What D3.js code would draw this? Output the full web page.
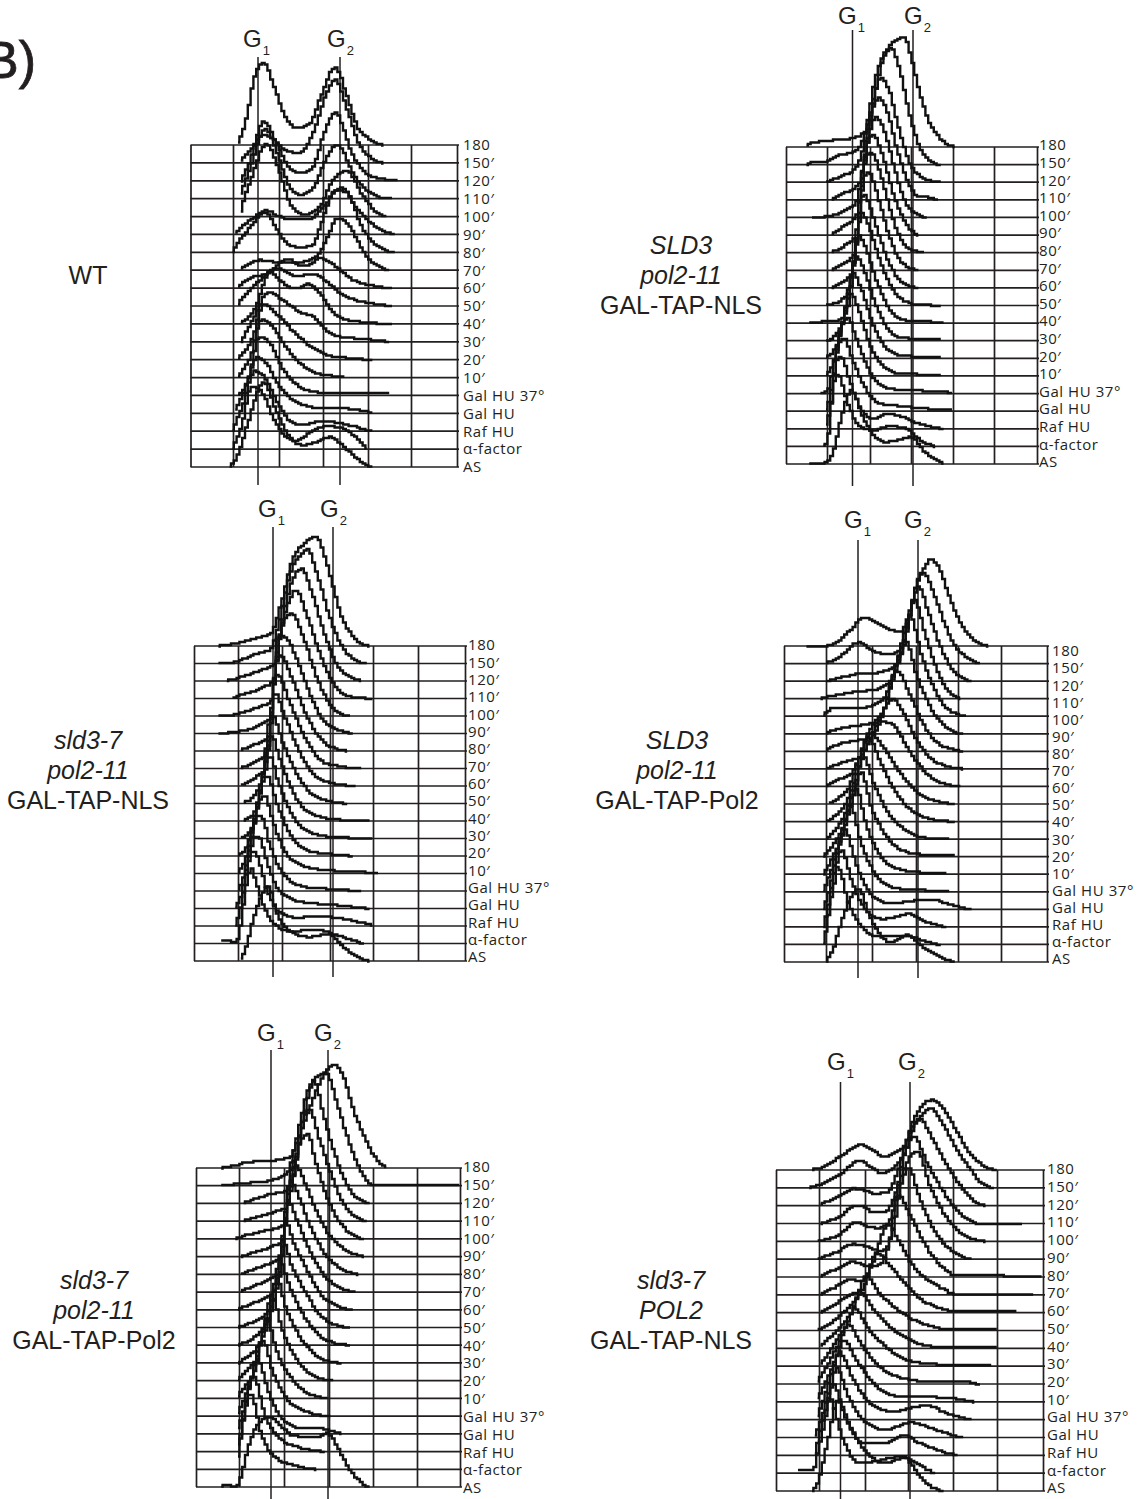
<!DOCTYPE html>
<html>
<head>
<meta charset="utf-8">
<script src="https://cdn.jsdelivr.net/npm/d3@7"></script>
<style>
  html, body { margin: 0; background: #fff; }
  svg { display: block; }
  .strain { font-family: "Liberation Sans", Arial, sans-serif; font-size: 25px; fill: #231f20; text-anchor: middle; }
  .phase { font-family: "Liberation Sans", Arial, sans-serif; fill: #231f20; }
  .tick text { font-family: "Open Sans", sans-serif; font-size: 15px; letter-spacing: 0.55px; fill: #231f20; }
</style>
</head>
<body>
<script>
// row labels, top row to bottom row
var timeLabels = ["180", "150′", "120′", "110′", "100′", "90′", "80′", "70′", "60′", "50′", "40′", "30′", "20′", "10′", "Gal HU 37°", "Gal HU", "Raf HU", "α-factor", "AS"];
var channelTicks = [0, 50, 100, 150, 200, 250, 300];

// each row is a list of [DNA channel, cell count]
var wtCurves = [
  [[55,0],[65,22],[75,68],[85,82],[95,62],[108,30],[122,17],[135,20],[150,50],[165,78],[178,50],[190,18],[205,5],[217,0]],
  [[58,0],[70,12],[85,28],[98,22],[110,12],[125,10],[140,30],[155,68],[165,83],[178,55],[190,22],[205,5],[218,0]],
  [[60,0],[70,20],[85,59],[100,35],[112,15],[125,8],[140,14],[152,45],[165,68],[185,25],[205,5],[235,0]],
  [[58,0],[70,30],[87,70],[100,45],[112,15],[125,4],[140,10],[150,30],[168,54],[185,25],[210,3],[228,0]],
  [[58,0],[72,40],[88,73],[102,45],[115,12],[130,2],[148,10],[162,36],[178,46],[195,22],[215,2],[222,0]],
  [[52,0],[70,14],[87,24],[102,18],[118,15],[135,15],[150,25],[172,47],[190,25],[210,8],[230,0]],
  [[50,0],[70,25],[87,40],[100,22],[112,8],[125,5],[140,8],[150,30],[165,62],[178,60],[195,25],[215,5],[232,0]],
  [[58,0],[80,10],[100,8],[125,8],[145,15],[155,30],[168,52],[180,45],[200,14],[225,0]],
  [[55,0],[70,10],[90,15],[110,29],[130,22],[150,30],[165,22],[185,8],[228,0]],
  [[55,0],[80,25],[100,38],[120,30],[140,32],[155,25],[175,10],[228,0]],
  [[58,0],[75,15],[92,52],[105,42],[120,35],[135,40],[148,30],[165,10],[185,3],[228,0]],
  [[60,0],[75,25],[90,50],[105,42],[125,30],[140,25],[155,12],[170,5],[195,3],[225,0]],
  [[55,0],[72,20],[85,55],[100,45],[118,28],[135,15],[155,5],[175,2],[205,0]],
  [[55,0],[70,20],[83,58],[95,50],[110,30],[125,15],[145,4],[175,1]],
  [[55,0],[68,15],[80,58],[92,52],[105,28],[120,12],[135,5],[150,3],[180,3],[225,2]],
  [[52,0],[65,25],[78,56],[88,50],[100,30],[115,15],[130,8],[150,5],[170,5],[205,1]],
  [[50,0],[62,25],[75,60],[85,55],[98,32],[112,12],[125,6],[150,10],[165,9],[185,5],[205,0]],
  [[50,0],[60,20],[72,62],[82,58],[95,32],[108,14],[120,8],[140,18],[155,23],[175,20],[200,0]],
  [[45,0],[55,8],[68,45],[85,85],[97,60],[110,35],[127,22],[145,25],[160,30],[175,20],[190,8],[205,0]]
];

var sld3NlsCurves = [
  [[25,0],[30,3],[50,6],[75,8],[95,14],[105,40],[115,80],[125,100],[135,107],[143,110],[152,90],[162,55],[172,28],[185,10],[203,0]],
  [[25,0],[33,2],[50,3],[65,9],[85,14],[97,35],[108,85],[120,112],[128,116],[138,95],[150,50],[162,18],[175,4],[185,0]],
  [[50,0],[65,5],[85,14],[97,45],[108,90],[115,104],[125,92],[138,50],[150,20],[165,5],[185,0]],
  [[55,0],[70,6],[88,15],[97,50],[105,90],[112,102],[122,90],[135,50],[148,18],[160,4],[175,2],[183,0]],
  [[32,0],[50,1],[70,6],[85,14],[95,55],[103,90],[109,100],[120,85],[133,45],[145,15],[158,4],[170,0]],
  [[55,0],[70,8],[85,18],[93,50],[100,95],[105,100],[117,80],[130,42],[145,12],[160,0]],
  [[55,0],[72,7],[85,18],[90,55],[97,95],[103,100],[115,78],[128,38],[142,10],[150,3],[165,1]],
  [[55,0],[70,7],[83,15],[90,60],[96,95],[100,98],[112,72],[125,35],[140,8],[158,0]],
  [[55,0],[68,5],[80,14],[88,60],[94,95],[100,85],[110,60],[125,25],[140,6],[158,0]],
  [[48,0],[55,1],[65,4],[78,14],[86,60],[92,92],[100,80],[112,50],[128,18],[145,4],[160,1],[185,0]],
  [[28,0],[40,1],[65,3],[75,12],[83,60],[88,88],[97,75],[110,42],[125,15],[142,3],[190,1]],
  [[50,0],[62,6],[72,25],[80,65],[85,85],[94,72],[107,40],[122,14],[140,3],[185,1]],
  [[48,0],[60,8],[70,35],[78,75],[82,85],[92,68],[105,35],[120,12],[138,3],[185,1]],
  [[48,0],[58,10],[68,45],[75,75],[80,82],[90,62],[102,30],[118,10],[135,3],[185,1]],
  [[42,0],[52,3],[62,40],[70,72],[76,75],[86,55],[98,28],[115,8],[135,4],[160,3],[200,1]],
  [[50,0],[58,25],[66,68],[72,72],[82,50],[95,25],[112,8],[130,6],[150,4],[200,1]],
  [[48,0],[56,22],[63,68],[68,72],[78,48],[90,22],[105,10],[125,15],[140,12],[165,4],[188,0]],
  [[45,0],[52,5],[60,65],[65,72],[75,45],[88,22],[105,16],[125,20],[145,18],[165,5],[180,0]],
  [[28,0],[48,1],[58,10],[68,45],[80,74],[92,50],[105,30],[120,22],[135,24],[152,27],[168,12],[190,0]]
];

var sld3Pol211NlsCurves = [
  [[27,0],[50,3],[77,9],[90,14],[100,40],[112,85],[125,103],[137,109],[146,90],[155,60],[165,30],[178,10],[196,0]],
  [[29,0],[50,2],[70,9],[88,14],[98,40],[110,90],[122,110],[128,114],[138,90],[150,50],[165,18],[180,4],[193,0]],
  [[38,0],[55,4],[75,10],[92,16],[102,60],[112,100],[122,112],[132,90],[145,50],[160,16],[175,4],[188,0]],
  [[43,0],[60,5],[80,11],[92,18],[100,65],[110,100],[116,108],[128,82],[142,42],[158,12],[175,2],[200,0]],
  [[29,0],[50,2],[72,8],[90,16],[97,65],[105,98],[112,102],[124,78],[138,38],[155,8],[172,0]],
  [[29,0],[50,2],[75,8],[90,18],[97,98],[105,96],[118,72],[132,36],[150,8],[178,0]],
  [[52,0],[72,7],[88,16],[94,80],[100,96],[112,72],[128,34],[146,8],[170,0]],
  [[52,0],[72,7],[86,16],[92,80],[97,94],[108,70],[125,32],[145,6],[165,2],[185,0]],
  [[52,0],[70,8],[84,18],[90,80],[94,92],[105,68],[122,30],[142,6],[180,0]],
  [[55,0],[70,8],[80,30],[88,84],[92,86],[102,62],[118,28],[138,6],[170,0]],
  [[55,0],[68,6],[78,35],[86,80],[90,84],[100,60],[115,25],[135,6],[155,2],[197,0]],
  [[52,0],[66,8],[76,40],[84,78],[88,82],[98,55],[112,24],[130,6],[150,2],[200,0]],
  [[50,0],[62,10],[72,45],[82,78],[85,80],[96,52],[110,22],[130,5],[150,2],[178,0]],
  [[50,0],[60,14],[70,50],[78,76],[82,78],[92,50],[106,20],[128,6],[152,3],[205,1]],
  [[50,0],[58,14],[67,52],[74,75],[78,75],[88,46],[102,18],[125,4],[150,2],[186,0]],
  [[48,0],[56,16],[65,55],[72,72],[75,72],[86,42],[100,16],[125,6],[150,4],[195,0]],
  [[48,0],[55,20],[63,60],[68,75],[72,72],[84,38],[98,14],[118,8],[130,10],[160,8],[200,1]],
  [[30,4],[50,2],[54,15],[62,62],[67,75],[72,62],[82,35],[95,18],[112,12],[135,14],[160,8],[190,0]],
  [[53,0],[60,12],[70,45],[86,74],[96,48],[110,30],[130,24],[150,27],[165,16],[180,6],[197,0]]
];

var sld3Pol2Curves = [
  [[28,0],[48,0],[65,5],[78,16],[93,28],[110,22],[133,14],[143,30],[152,60],[160,76],[170,87],[180,76],[192,48],[205,22],[218,8],[235,0]],
  [[50,0],[65,6],[87,21],[100,14],[120,9],[135,16],[145,50],[153,82],[160,91],[172,72],[185,42],[198,18],[212,6],[225,0]],
  [[50,0],[65,3],[85,7],[105,8],[125,14],[138,35],[148,80],[155,95],[166,70],[180,36],[195,12],[215,0]],
  [[45,0],[65,4],[85,7],[105,9],[122,18],[135,45],[145,85],[150,99],[162,66],[176,30],[190,8],[202,0]],
  [[48,0],[60,8],[85,8],[105,12],[118,22],[130,55],[140,88],[145,100],[158,62],[172,30],[188,8],[210,0]],
  [[50,0],[65,5],[85,8],[100,10],[115,24],[125,55],[135,85],[140,93],[152,60],[168,28],[185,8],[205,0]],
  [[50,0],[62,6],[85,11],[100,14],[112,32],[122,62],[130,80],[145,56],[160,28],[178,8],[207,0]],
  [[50,0],[68,6],[88,12],[98,26],[110,50],[125,70],[138,55],[152,30],[170,10],[187,3],[207,0]],
  [[50,0],[65,7],[80,14],[90,34],[100,58],[112,65],[125,62],[140,42],[155,22],[175,6],[203,0]],
  [[52,0],[65,6],[76,16],[86,42],[100,70],[115,56],[130,36],[150,14],[175,3],[197,0]],
  [[50,0],[62,6],[74,20],[88,55],[100,80],[112,58],[128,30],[148,10],[172,2],[197,0]],
  [[50,0],[60,7],[72,25],[84,55],[92,83],[104,55],[120,26],[142,8],[165,1],[190,0]],
  [[48,0],[58,10],[70,30],[82,62],[90,85],[100,52],[117,22],[137,6],[160,2],[197,1]],
  [[48,0],[56,12],[68,36],[78,66],[85,85],[95,50],[110,20],[132,5],[155,2],[185,1]],
  [[48,0],[55,15],[64,44],[72,70],[78,85],[90,48],[105,18],[127,4],[150,2],[190,1]],
  [[48,0],[55,18],[62,50],[68,68],[72,80],[84,46],[98,18],[120,6],[145,8],[170,10],[190,5],[215,0]],
  [[48,0],[54,20],[60,52],[65,68],[68,78],[80,44],[94,18],[112,8],[130,10],[142,13],[160,6],[185,0]],
  [[48,0],[52,16],[58,50],[62,68],[64,78],[76,42],[90,18],[107,8],[125,8],[140,9],[160,4],[178,0]],
  [[50,0],[58,10],[70,45],[87,73],[98,48],[110,28],[122,20],[135,24],[142,27],[158,16],[178,6],[198,0]]
];

var sld3Pol211Pol2Curves = [
  [[30,0],[45,2],[63,6],[85,7],[108,11],[118,30],[130,60],[145,92],[157,103],[168,92],[178,62],[190,35],[203,12],[217,0]],
  [[30,0],[50,2],[65,3],[85,5],[105,12],[115,45],[128,95],[140,110],[148,113],[160,85],[172,50],[188,15],[203,0],[245,0],[250,1],[300,1]],
  [[55,0],[70,5],[90,10],[108,14],[118,55],[128,105],[135,123],[145,90],[158,50],[175,14],[195,0]],
  [[55,0],[70,4],[90,9],[105,14],[114,55],[122,100],[130,112],[140,85],[155,45],[172,12],[193,0]],
  [[45,0],[65,5],[85,9],[102,14],[110,60],[120,98],[128,105],[136,80],[150,40],[170,10],[190,0]],
  [[52,0],[68,4],[88,10],[100,16],[106,60],[112,95],[118,88],[130,62],[146,30],[168,8],[190,0]],
  [[52,0],[70,6],[88,12],[100,18],[104,65],[108,95],[118,78],[130,50],[146,22],[165,6],[185,0]],
  [[52,0],[70,7],[88,14],[98,22],[102,70],[106,92],[116,72],[128,46],[145,18],[162,5],[180,0]],
  [[50,0],[68,7],[85,14],[96,26],[100,72],[103,90],[112,68],[126,42],[142,16],[160,4],[178,0]],
  [[50,0],[68,6],[82,14],[92,30],[97,72],[100,88],[110,62],[124,38],[140,14],[158,3],[175,0]],
  [[50,0],[65,6],[78,16],[88,35],[93,72],[97,85],[108,58],[122,32],[138,12],[155,3],[175,0]],
  [[50,0],[62,7],[75,20],[84,42],[90,75],[93,85],[104,55],[118,28],[135,9],[150,2],[165,0]],
  [[50,0],[60,10],[72,25],[80,55],[88,85],[100,50],[114,24],[130,7],[155,0]],
  [[48,0],[58,12],[70,30],[78,68],[82,80],[94,46],[110,20],[128,5],[150,0]],
  [[48,0],[56,14],[66,40],[74,70],[78,75],[90,42],[106,16],[125,5],[152,0]],
  [[48,0],[55,18],[63,45],[70,72],[72,75],[85,40],[100,14],[120,6],[135,6],[150,4],[165,0]],
  [[48,0],[54,20],[60,50],[66,74],[68,75],[80,38],[96,14],[115,5],[145,0]],
  [[48,0],[52,22],[58,55],[63,74],[65,75],[76,36],[92,12],[112,4],[137,0]],
  [[30,1],[36,2],[48,0],[55,14],[62,40],[72,62],[85,70],[97,62],[110,52],[125,50],[138,50],[150,54],[162,38],[178,14],[195,0]]
];

var sld3Pol2NlsCurves = [
  [[42,0],[55,3],[72,12],[85,20],[97,25],[110,20],[125,13],[138,18],[148,25],[158,50],[168,65],[178,70],[190,62],[205,40],[220,18],[235,5],[250,0]],
  [[40,0],[55,4],[75,14],[95,27],[110,20],[120,15],[135,20],[148,35],[158,60],[168,74],[177,80],[190,64],[205,40],[222,18],[235,4],[248,0]],
  [[50,0],[70,8],[90,17],[105,14],[112,12],[128,14],[140,35],[150,65],[165,87],[178,68],[195,40],[212,18],[225,5],[238,0]],
  [[52,0],[72,6],[92,18],[105,14],[110,11],[125,12],[138,32],[148,70],[158,87],[172,62],[188,36],[205,14],[220,3],[232,0],[278,0]],
  [[48,0],[70,5],[93,19],[105,15],[117,13],[130,20],[142,60],[152,82],[162,90],[175,58],[190,30],[208,10],[225,2],[238,0]],
  [[48,0],[68,6],[90,15],[105,12],[122,8],[135,32],[145,78],[152,92],[165,60],[180,30],[198,10],[220,0]],
  [[50,0],[68,7],[88,15],[105,11],[118,12],[130,35],[140,82],[155,60],[172,30],[190,10],[203,2],[297,1]],
  [[50,0],[68,7],[83,15],[98,14],[110,30],[128,70],[142,52],[158,28],[175,14],[190,6],[203,1],[290,1]],
  [[52,0],[68,8],[85,18],[98,22],[115,60],[128,50],[145,32],[165,14],[185,5],[198,2],[270,1]],
  [[47,0],[62,6],[78,18],[92,32],[103,55],[118,38],[135,24],[155,12],[178,4],[198,1],[250,1]],
  [[50,0],[62,10],[75,22],[87,36],[97,55],[112,38],[130,22],[150,10],[178,2],[250,1]],
  [[50,0],[60,10],[70,25],[82,42],[90,58],[105,38],[125,20],[148,7],[180,2],[245,1]],
  [[48,0],[58,14],[68,32],[76,46],[83,60],[97,40],[118,18],[145,6],[170,3],[205,3],[230,0]],
  [[48,0],[56,14],[64,30],[72,48],[78,62],[92,42],[112,18],[138,6],[175,5],[205,3],[225,0]],
  [[48,0],[55,16],[62,36],[68,54],[73,68],[88,42],[108,16],[135,8],[155,12],[173,14],[195,6],[222,0]],
  [[46,0],[54,18],[60,38],[66,56],[70,70],[84,40],[104,14],[125,8],[155,15],[175,10],[195,4],[212,0]],
  [[46,0],[52,20],[58,42],[63,60],[67,72],[80,38],[100,12],[125,12],[145,20],[165,12],[185,5],[205,0]],
  [[25,3],[45,3],[50,20],[56,44],[60,62],[63,75],[76,38],[95,10],[125,14],[145,17],[160,10],[180,0]],
  [[42,0],[50,8],[60,45],[72,90],[85,66],[100,42],[125,28],[148,33],[162,18],[178,4],[190,0]]
];

// where each panel sits on the page
var panels = [
  { curves: wtCurves, gridX: [190.5, 233, 279, 323, 368, 411, 457], top: 145, bottom: 467, labelX: 463, labelTop: 145, labelBottom: 467, g1: 258, g2: 340, markTop: 57, markBottom: 485, g1Text: [243, 47], g2Text: [327, 47], strain: [["WT", false]], strainX: 88, strainY: 284 },
  { curves: sld3NlsCurves, gridX: [786, 827, 870, 911, 953, 994, 1037], top: 147, bottom: 464, labelX: 1039, labelTop: 145, labelBottom: 462, g1: 852.5, g2: 913, markTop: 30, markBottom: 486, g1Text: [838, 24], g2Text: [904, 24], strain: [["SLD3", true], ["pol2-11", true], ["GAL-TAP-NLS", false]], strainX: 681, strainY: 254 },
  { curves: sld3Pol211NlsCurves, gridX: [194, 238, 282, 330, 373, 418, 465], top: 646, bottom: 961, labelX: 468, labelTop: 645, labelBottom: 957, g1: 273, g2: 333, markTop: 527, markBottom: 977, g1Text: [258, 517], g2Text: [320, 517], strain: [["sld3-7", true], ["pol2-11", true], ["GAL-TAP-NLS", false]], strainX: 88, strainY: 749 },
  { curves: sld3Pol2Curves, gridX: [784, 826, 872, 916, 958, 1001, 1047], top: 646, bottom: 962, labelX: 1052, labelTop: 651, labelBottom: 959, g1: 858, g2: 918, markTop: 540, markBottom: 978, g1Text: [844, 528], g2Text: [904, 528], strain: [["SLD3", true], ["pol2-11", true], ["GAL-TAP-Pol2", false]], strainX: 677, strainY: 749 },
  { curves: sld3Pol211Pol2Curves, gridX: [196, 239, 284, 329, 373, 417, 460], top: 1168, bottom: 1487, labelX: 463, labelTop: 1167, labelBottom: 1488, g1: 271, g2: 328, markTop: 1050, markBottom: 1499, g1Text: [257, 1041], g2Text: [314, 1041], strain: [["sld3-7", true], ["pol2-11", true], ["GAL-TAP-Pol2", false]], strainX: 94, strainY: 1289 },
  { curves: sld3Pol2NlsCurves, gridX: [776, 819, 865, 908, 953, 997, 1043], top: 1170, bottom: 1491, labelX: 1047, labelTop: 1169, labelBottom: 1488, g1: 840.5, g2: 910, markTop: 1082, markBottom: 1499, g1Text: [827, 1070], g2Text: [898, 1070], strain: [["sld3-7", true], ["POL2", true], ["GAL-TAP-NLS", false]], strainX: 671, strainY: 1289 }
];

var svg = d3.select("body").append("svg").attr("width", 1146).attr("height", 1499);

svg.append("text").attr("x", -16).attr("y", 78).style("font-family", "'Liberation Sans', sans-serif").style("font-size", "52px")
  .style("fill", "#231f20").style("stroke", "#231f20").style("stroke-width", 0.8).text("B)");

// the source plots are binned histograms, so walk the spline and bin it on screen
function binned(pathEl, binWidth) {
  var total = pathEl.getTotalLength();
  var bins = new Map();
  for (var l = 0; l <= total; l += 0.5) {
    var pt = pathEl.getPointAtLength(l);
    bins.set(Math.round(pt.x / binWidth), pt.y);
  }
  return Array.from(bins, function (b) { return [b[0] * binWidth, Math.round(b[1] / 1.5) * 1.5]; });
}

// generator for one ridge panel
function drawPanel(p) {
  var x = d3.scaleLinear().domain(channelTicks).range(p.gridX);
  var row = d3.scalePoint().domain(timeLabels).range([p.top, p.bottom]);
  var labelRow = d3.scalePoint().domain(timeLabels).range([p.labelTop, p.labelBottom]);
  var height = d3.scaleLinear().domain([0, 100]).range([0, 100]);
  var g = svg.append("g");

  // frame and grid
  g.selectAll("line.row").data(timeLabels).enter().append("line")
    .attr("class", "row")
    .attr("x1", p.gridX[0]).attr("x2", p.gridX[6] + 2)
    .attr("y1", function (d) { return row(d); })
    .attr("y2", function (d) { return row(d); })
    .style("stroke", "#231f20").style("stroke-width", 1.7);

  var gridAxis = d3.axisBottom(x).tickValues(channelTicks).tickSize(p.top - p.bottom).tickFormat("");
  g.append("g").attr("transform", "translate(0," + p.bottom + ")").call(gridAxis)
    .call(function (s) {
      s.select(".domain").remove();
      s.selectAll("line").style("stroke", "#231f20").style("stroke-width", 1.7);
    });

  // G1 and G2 markers
  [p.g1, p.g2].forEach(function (gx) {
    g.append("line").attr("x1", gx).attr("x2", gx).attr("y1", p.markTop).attr("y2", p.markBottom)
      .style("stroke", "#231f20").style("stroke-width", 1.5);
  });
  [[p.g1Text, "1"], [p.g2Text, "2"]].forEach(function (m) {
    var t = g.append("text").attr("class", "phase").attr("x", m[0][0]).attr("y", m[0][1]).style("font-size", "24px").text("G");
    t.append("tspan").attr("dx", 1).attr("dy", 8).style("font-size", "13px").text(m[1]);
  });

  // one curve per row
  var stepLine = d3.line().curve(d3.curveStep);
  p.curves.forEach(function (curve, i) {
    var base = row(timeLabels[i]);
    var line = d3.line()
      .x(function (d) { return x(d[0]); })
      .y(function (d) { return base - height(d[1]); })
      .curve(d3.curveMonotoneX);
    var path = g.append("path").attr("d", line(curve))
      .style("fill", "none").style("stroke", "#111").style("stroke-width", 2.4);
    path.attr("d", stepLine(binned(path.node(), 2.8)));
  });

  // row labels
  var labelAxis = d3.axisRight(labelRow).tickSize(0).tickPadding(0);
  g.append("g").attr("transform", "translate(" + p.labelX + ",0)").call(labelAxis)
    .call(function (s) { s.select(".domain").remove(); });

  // strain name
  p.strain.forEach(function (s, i) {
    g.append("text").attr("class", "strain")
      .attr("x", p.strainX).attr("y", p.strainY + i * 30)
      .style("font-style", s[1] ? "italic" : "normal").text(s[0]);
  });
}

panels.forEach(drawPanel);
</script>
</body>
</html>
